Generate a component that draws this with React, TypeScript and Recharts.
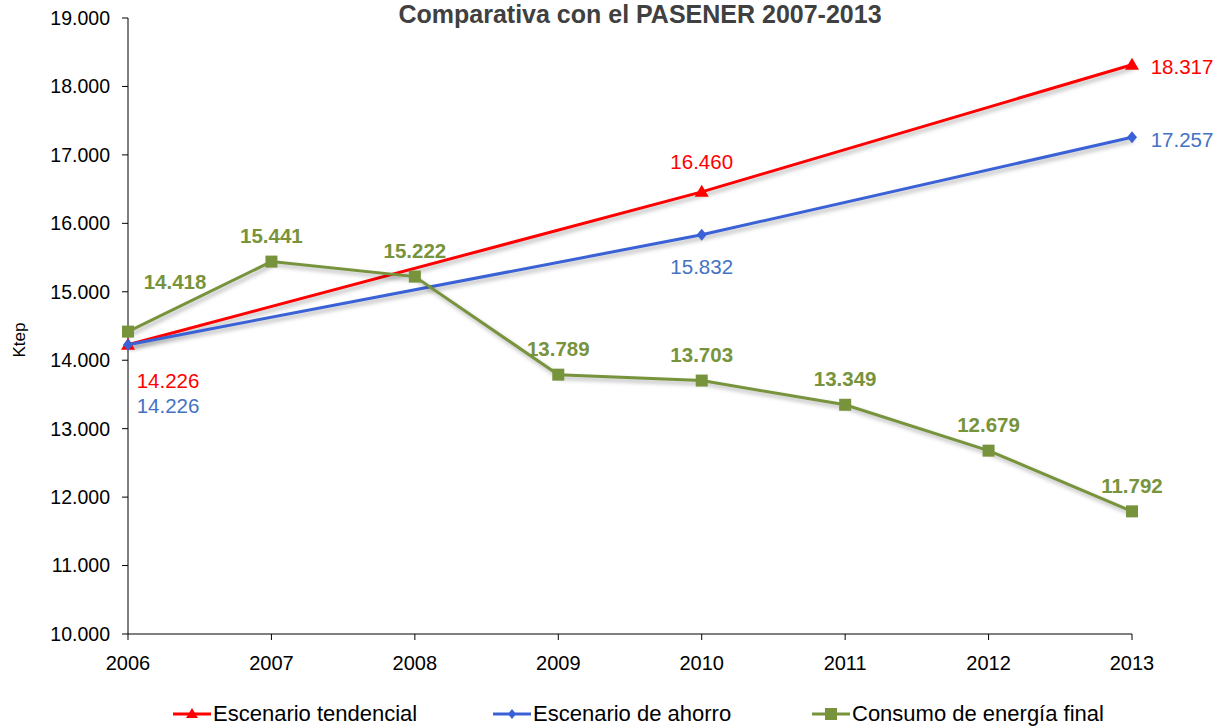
import React from "react";
import { LineChart, Line, XAxis, YAxis, LabelList } from "recharts";

const years = [2006, 2007, 2008, 2009, 2010, 2011, 2012, 2013];
const tendencial = [14226, null, null, null, 16460, null, null, 18317];
const ahorro = [14226, null, null, null, 15832, null, null, 17257];
const consumo = [14418, 15441, 15222, 13789, 13703, 13349, 12679, 11792];
const yTicks = [10000, 11000, 12000, 13000, 14000, 15000, 16000, 17000, 18000, 19000];
const seriesNames = ["Escenario tendencial", "Escenario de ahorro", "Consumo de energía final"];

const RED = "#FF0000";
const BLUE = "#3A62D6";
const BLUE_TEXT = "#4472C4";
const GREEN = "#77933C";

const data = years.map((y, i) => ({
  year: y,
  tendencial: tendencial[i],
  ahorro: ahorro[i],
  consumo: consumo[i],
}));

const fmt = (v: number) => (v / 1000).toFixed(3);

const Triangle = (props: any) => {
  const { cx, cy } = props;
  if (cx == null || cy == null || props.value == null) return null;
  return <path d={`M${cx},${cy - 7} L${cx + 7},${cy + 5} L${cx - 7},${cy + 5} Z`} fill={RED} />;
};
const Diamond = (props: any) => {
  const { cx, cy } = props;
  if (cx == null || cy == null || props.value == null) return null;
  return <path d={`M${cx},${cy - 6} L${cx + 5},${cy} L${cx},${cy + 6} L${cx - 5},${cy} Z`} fill={BLUE} />;
};
const Square = (props: any) => {
  const { cx, cy } = props;
  if (cx == null || cy == null) return null;
  return <rect x={cx - 6} y={cy - 6} width={12} height={12} fill={GREEN} />;
};

// per-point label offsets
const redOff: Record<number, [number, number]> = { 0: [40, 36], 4: [0, -30], 7: [50, 2] };
const blueOff: Record<number, [number, number]> = { 0: [40, 61], 4: [0, 32], 7: [50, 2] };
const greenOff: Record<number, [number, number]> = { 0: [47, -50] };

const makeLabel = (color: string, offs: Record<number, [number, number]>, bold: boolean, defOff: [number, number]) =>
  (props: any) => {
    const { x, y, value, index } = props;
    if (value == null || x == null) return null;
    const [dx, dy] = offs[index] || defOff;
    return (
      <text x={x + dx} y={y + dy} textAnchor="middle" dominantBaseline="central" fill={color}
        fontSize={20.5} fontWeight={bold ? "bold" : "normal"} fontFamily="Arial, Liberation Sans, sans-serif">
        {fmt(value)}
      </text>
    );
  };

const LegendItem = ({ color, name, marker }: { color: string; name: string; marker: string }) => (
  <div style={{ display: "flex", alignItems: "center" }}>
    <svg width={38} height={14}>
      <line x1={0} y1={7} x2={38} y2={7} stroke={color} strokeWidth={3} />
      {marker === "tri" && <path d="M19,1 L25,11 L13,11 Z" fill={color} />}
      {marker === "dia" && <path d="M19,2 L23,7 L19,12 L15,7 Z" fill={color} />}
      {marker === "sq" && <rect x={13} y={1} width={12} height={12} fill={color} />}
    </svg>
    <span style={{ marginLeft: 2 }}>{name}</span>
  </div>
);

export default function App() {
  return (
    <div style={{ position: "absolute", left: 0, top: 0, width: 1220, height: 726, background: "#fff", fontFamily: "Arial, Liberation Sans, sans-serif" }}>
      <style>{`.shd path.recharts-curve { filter: drop-shadow(2px 3px 2px rgba(0,0,0,0.3)); }`}</style>
      <div style={{ position: "absolute", left: 0, width: 1280, top: 0, textAlign: "center", fontSize: 25, lineHeight: "28px", fontWeight: "bold", color: "#404040" }}>
        Comparativa con el PASENER 2007-2013
      </div>
      <div style={{ position: "absolute", left: 20, top: 340, transform: "translate(-50%,-50%) rotate(-90deg)", fontSize: 17, color: "#000" }}>
        Ktep
      </div>
      <LineChart width={1220} height={726} data={data} margin={{ top: 18, right: 88, bottom: 52, left: 0 }}>
        <XAxis dataKey="year" type="number" domain={[2006, 2013]} ticks={years} height={40}
          tick={{ fill: "#000", fontSize: 20 }} tickSize={6} tickMargin={16}
          axisLine={{ stroke: "#000" }} tickLine={{ stroke: "#000" }} />
        <YAxis domain={[10000, 19000]} ticks={yTicks} width={128} tickFormatter={fmt}
          tick={{ fill: "#000", fontSize: 19.5 }} tickSize={6} tickMargin={12}
          axisLine={{ stroke: "#000" }} tickLine={{ stroke: "#000" }} />
        <Line className="shd" dataKey="tendencial" stroke={RED} strokeWidth={3} connectNulls dot={<Triangle />} isAnimationActive={false}>
          <LabelList dataKey="tendencial" content={makeLabel(RED, redOff, false, [0, -30])} />
        </Line>
        <Line className="shd" dataKey="ahorro" stroke={BLUE} strokeWidth={3} connectNulls dot={<Diamond />} isAnimationActive={false}>
          <LabelList dataKey="ahorro" content={makeLabel(BLUE_TEXT, blueOff, false, [0, 32])} />
        </Line>
        <Line className="shd" dataKey="consumo" stroke={GREEN} strokeWidth={3} dot={<Square />} isAnimationActive={false}>
          <LabelList dataKey="consumo" content={makeLabel(GREEN, greenOff, true, [0, -26])} />
        </Line>
      </LineChart>
      <div style={{ position: "absolute", top: 701, left: 0, width: 1220, fontSize: 22, lineHeight: "26px", color: "#000", fontFamily: "Arial, Liberation Sans, sans-serif" }}>
        <div style={{ position: "absolute", left: 173 }}><LegendItem color={RED} name={seriesNames[0]} marker="tri" /></div>
        <div style={{ position: "absolute", left: 493 }}><LegendItem color={BLUE} name={seriesNames[1]} marker="dia" /></div>
        <div style={{ position: "absolute", left: 812 }}><LegendItem color={GREEN} name={seriesNames[2]} marker="sq" /></div>
      </div>
    </div>
  );
}
